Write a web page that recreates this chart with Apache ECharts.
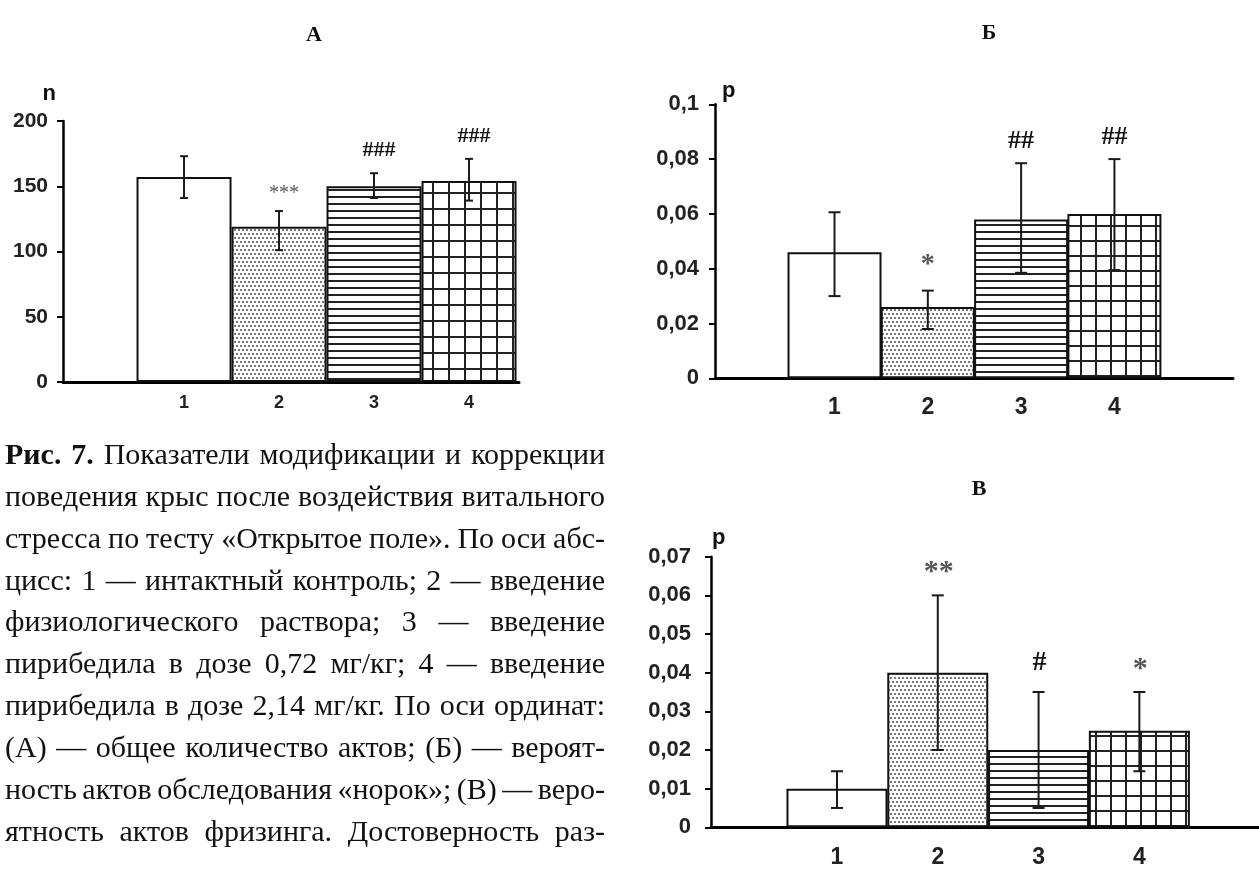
<!DOCTYPE html>
<html><head><meta charset="utf-8">
<script src="https://cdn.jsdelivr.net/npm/echarts@6/dist/echarts.min.js"></script>
<style>html,body{margin:0;padding:0;background:#fff}#c{width:1259px;height:870px}</style>
</head><body><div id="c"></div>
<script>
// ---------- DATA ----------
const categories = ['1', '2', '3', '4'];
const titles = ['А', 'Б', 'В'];
const axisNames = ['n', 'p', 'p'];

const valuesA = [157, 119, 150, 154];
const lowA    = [141, 101, 141, 139];
const highA   = [173, 131, 160, 171];
const annA    = ['', '***', '###', '###'];

const valuesB = [0.046, 0.026, 0.058, 0.060];
const lowB    = [0.030, 0.018, 0.0385, 0.0395];
const highB   = [0.0606, 0.032, 0.0785, 0.080];
const annB    = ['', '*', '##', '##'];

const valuesV = [0.010, 0.040, 0.020, 0.025];
const lowV    = [0.005, 0.020, 0.005, 0.0145];
const highV   = [0.0145, 0.060, 0.035, 0.035];
const annV    = ['', '**', '#', '*'];

const yMaxA = 200, yStepA = 50;
const yMaxB = 0.1, yStepB = 0.02;
const yMaxV = 0.07, yStepV = 0.01;

const captionLines = [
  'Рис. 7. Показатели модификации и коррекции',
  'поведения крыс после воздействия витального',
  'стресса по тесту «Открытое поле». По оси абс-',
  'цисс: 1 — интактный контроль; 2 — введение',
  'физиологического раствора; 3 — введение',
  'пирибедила в дозе 0,72 мг/кг; 4 — введение',
  'пирибедила в дозе 2,14 мг/кг. По оси ординат:',
  '(А) — общее количество актов; (Б) — вероят-',
  'ность актов обследования «норок»; (В) — веро-',
  'ятность актов фризинга. Достоверность раз-'
];

// ---------- STYLE ----------
const SANS = '"Liberation Sans", Arial, sans-serif';
const SERIF = '"Liberation Serif", "Times New Roman", serif';

function makeCanvas(w, h, draw) {
  const c = document.createElement('canvas');
  c.width = w; c.height = h;
  const g = c.getContext('2d');
  g.fillStyle = '#fff'; g.fillRect(0, 0, w, h);
  draw(g);
  return c;
}
const dotsTile = makeCanvas(4, 8, g => { g.fillStyle = '#7a7a7a'; g.fillRect(0, 1, 2, 2); g.fillRect(2, 5, 2, 2); });
const hlineTile = makeCanvas(8, 7, g => { g.fillStyle = '#222'; g.fillRect(0, 0, 8, 2); });
function gridTile(s) { return makeCanvas(s, s, g => { g.fillStyle = '#222'; g.fillRect(0, 0, s, 2); g.fillRect(0, 0, 2, s); }); }

const panels = [
  { values: valuesA, low: lowA, high: highA, ann: annA, ymax: yMaxA, ystep: yStepA,
    grid: { left: 63, top: 121, width: 456, height: 261 }, xmin: -0.274, xmax: 4.526,
    barW: 95, cap: 4, yFont: 21, xFont: 18, yMargin: 15, xMargin: 12, gridSize: 16,
    hashGap: 23, starGap: 17, hashFont: 22, starFont: 20, starBold: false, annDx: 5,
    title: { x: 309, y: 30 }, name: { align: 'right', padding: [0, 7, 0, 0], gap: 16 } },
  { values: valuesB, low: lowB, high: highB, ann: annB, ymax: yMaxB, ystep: yStepB,
    grid: { left: 715, top: 104.3, width: 518, height: 274 }, xmin: -0.281, xmax: 5.271,
    barW: 94, cap: 6, yFont: 22, xFont: 23, yMargin: 16, xMargin: 18, gridSize: 15,
    hashGap: 22, starGap: 26, hashFont: 26, starFont: 28, starBold: true, annDx: 0,
    title: { x: 984, y: 28 }, name: { align: 'left', padding: [0, 0, 0, 7], gap: 2 } },
  { values: valuesV, low: lowV, high: highV, ann: annV, ymax: yMaxV, ystep: yStepV,
    grid: { left: 711, top: 556.7, width: 548, height: 270.6 }, xmin: -0.25, xmax: 5.187,
    barW: 101, cap: 6, yFont: 22, xFont: 23, yMargin: 20, xMargin: 19, gridSize: 15,
    hashGap: 29, starGap: 23, hashFont: 28, starFont: 30, starBold: true, annDx: 1,
    title: { x: 974, y: 484 }, name: { align: 'left', padding: [0, 0, 0, 1], gap: 8 } }
];

function fmtY(v) {
  if (v === 0) return '0';
  return String(+v.toFixed(4)).replace('.', ',');
}

const option = {
  animation: false,
  backgroundColor: '#fff',
  title: [], grid: [], xAxis: [], yAxis: [], series: [], graphic: []
};

panels.forEach((p, k) => {
  option.title.push({
    text: titles[k], left: p.title.x, top: p.title.y, textAlign: 'center', textVerticalAlign: 'middle',
    textStyle: { fontFamily: SERIF, fontWeight: 'bold', fontSize: 22, color: '#111' }
  });
  option.grid.push(Object.assign({ containLabel: false, outerBoundsMode: 'none' }, p.grid));
  option.xAxis.push({
    type: 'value', gridIndex: k, min: p.xmin, max: p.xmax,
    splitLine: { show: false },
    axisTick: { show: false },
    axisLine: { show: true, onZero: true, lineStyle: { color: '#000', width: 3 } },
    axisLabel: {
      customValues: categories.map((c, i) => i + 1),
      formatter: v => { const i = Math.round(v) - 1; return (Math.abs(v - Math.round(v)) < 1e-6 && categories[i]) ? categories[i] : ''; },
      fontFamily: SANS, fontWeight: 'bold', fontSize: p.xFont, color: '#222', margin: p.xMargin
    }
  });
  option.yAxis.push({
    type: 'value', gridIndex: k, min: 0, max: p.ymax, interval: p.ystep,
    name: axisNames[k], nameLocation: 'end', nameGap: p.name.gap,
    nameTextStyle: { fontFamily: SANS, fontWeight: 'bold', fontSize: 22, color: '#111',
      align: p.name.align, padding: p.name.padding },
    splitLine: { show: false },
    axisLine: { show: true, onZero: false, lineStyle: { color: '#000', width: 2.5 } },
    axisTick: { show: true, inside: false, length: 6, lineStyle: { color: '#000', width: 2 } },
    axisLabel: { formatter: fmtY, fontFamily: SANS, fontWeight: 'bold', fontSize: p.yFont, color: '#222', margin: p.yMargin }
  });

  const fills = ['#fff',
    { image: dotsTile, repeat: 'repeat' },
    { image: hlineTile, repeat: 'repeat' },
    { image: gridTile(p.gridSize), repeat: 'repeat' }];

  option.series.push({
    type: 'bar', xAxisIndex: k, yAxisIndex: k, barWidth: p.barW, z: 2,
    data: p.values.map((v, i) => ({ value: [i + 1, v],
      itemStyle: { color: fills[i], borderColor: '#111', borderWidth: 2 } }))
  });

  option.series.push({
    type: 'custom', xAxisIndex: k, yAxisIndex: k, z: 5,
    data: p.low.map((l, i) => [i + 1, l, p.high[i]]),
    renderItem(params, api) {
      const x = api.value(0);
      const a = api.coord([x, api.value(1)]);
      const b = api.coord([x, api.value(2)]);
      const st = { stroke: '#1a1a1a', lineWidth: 2 };
      return { type: 'group', children: [
        { type: 'line', shape: { x1: a[0], y1: a[1], x2: b[0], y2: b[1] }, style: st },
        { type: 'line', shape: { x1: a[0] - p.cap, y1: a[1], x2: a[0] + p.cap, y2: a[1] }, style: st },
        { type: 'line', shape: { x1: b[0] - p.cap, y1: b[1], x2: b[0] + p.cap, y2: b[1] }, style: st }
      ] };
    }
  });

  option.series.push({
    type: 'custom', xAxisIndex: k, yAxisIndex: k, z: 6,
    data: p.high.map((h, i) => [i + 1, h]),
    renderItem(params, api) {
      const t = p.ann[params.dataIndex];
      if (!t) return null;
      const c = api.coord([api.value(0), api.value(1)]);
      const star = t[0] === '*';
      return { type: 'text', x: c[0] + p.annDx, y: c[1] - (star ? p.starGap : p.hashGap),
        style: { text: t, fill: star ? '#555' : '#111', fontFamily: SERIF,
          fontWeight: star ? (p.starBold ? 'bold' : 'normal') : 'bold', fontSize: star ? p.starFont : p.hashFont,
          align: 'center', verticalAlign: 'middle' } };
    }
  });
});

// ---------- caption (justified) ----------
const capLeft = 5, capRight = 605, capTop = 456, capStep = 41.9, capSize = 30;
const mctx = document.createElement('canvas').getContext('2d');
function measure(w, bold) { mctx.font = (bold ? 'bold ' : '') + capSize + 'px ' + SERIF; return mctx.measureText(w).width; }
captionLines.forEach((line, li) => {
  const words = line.split(' ');
  const boldN = li === 0 ? 2 : 0;
  const widths = words.map((w, j) => measure(w, j < boldN));
  const total = widths.reduce((s, v) => s + v, 0);
  const gap = words.length > 1 ? (capRight - capLeft - total) / (words.length - 1) : 0;
  let x = capLeft;
  words.forEach((w, j) => {
    option.graphic.push({ type: 'text', x: x, y: capTop + li * capStep,
      style: { text: w, fill: '#111', fontFamily: SERIF, fontSize: capSize,
        fontWeight: j < boldN ? 'bold' : 'normal', verticalAlign: 'middle', align: 'left' } });
    x += widths[j] + gap;
  });
});

const chart = echarts.init(document.getElementById('c'));
chart.setOption(option);
</script>
</body></html>
